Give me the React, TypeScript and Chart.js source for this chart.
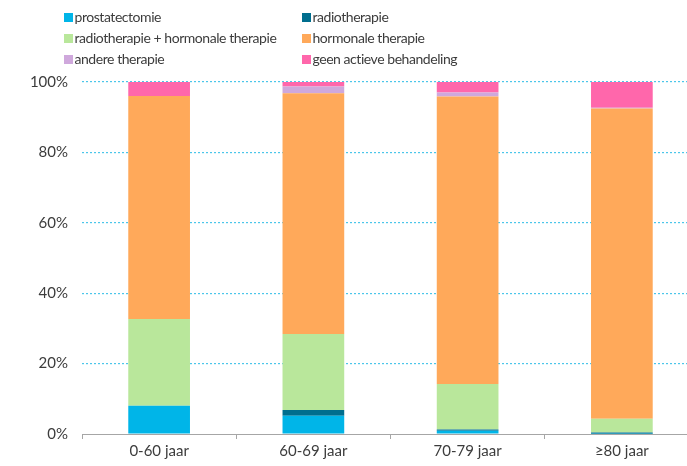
import React, { useEffect, useRef } from "react";
import { Chart, registerables } from "chart.js";

Chart.register(...registerables);

const categories = ["0-60 jaar", "60-69 jaar", "70-79 jaar", "≥80 jaar"];
const prostatectomie = [8.0, 5.2, 0.9, 0.1];
const radiotherapie = [0, 1.6, 0.4, 0.3];
const radioHormonaal = [24.7, 21.6, 12.9, 3.9];
const hormonaal = [63.3, 68.4, 81.7, 88.2];
const andere = [0, 1.9, 1.1, 0.2];
const geenBehandeling = [4.0, 1.3, 3.0, 7.3];
const yTicks = [0, 20, 40, 60, 80, 100];

const seriesNames = [
  "prostatectomie",
  "radiotherapie",
  "radiotherapie + hormonale therapie",
  "hormonale therapie",
  "andere therapie",
  "geen actieve behandeling",
];
const seriesColors = ["#00b5e8", "#006e8e", "#b9e79b", "#ffa95a", "#cfa8dc", "#ff67ab"];

const FONT = "Lato, 'Open Sans', sans-serif";
const TEXT = "#3c3c3c";

const legendPlugin = {
  id: "twoColLegend",
  afterDraw(chart: any) {
    const ctx = chart.ctx;
    const ds = chart.data.datasets;
    ctx.save();
    ctx.font = `14px ${FONT}`;
    try {
      (ctx as any).letterSpacing = "-0.45px";
    } catch (e) {}
    ctx.textBaseline = "middle";
    ctx.textAlign = "left";
    const colX = [64, 302];
    const rowY = [17.5, 38.5, 59.5];
    ds.forEach((d: any, i: number) => {
      const x = colX[i % 2];
      const y = rowY[Math.floor(i / 2)];
      ctx.fillStyle = d.backgroundColor;
      ctx.fillRect(x, y - 4.5, 9, 9);
      ctx.fillStyle = TEXT;
      ctx.fillText(d.label, x + 10.5, y);
    });
    ctx.restore();
  },
};

export default function App() {
  const ref = useRef<HTMLCanvasElement | null>(null);
  useEffect(() => {
    if (!ref.current) return;
    const values = [prostatectomie, radiotherapie, radioHormonaal, hormonaal, andere, geenBehandeling];
    const chart = new Chart(ref.current, {
      type: "bar",
      data: {
        labels: categories,
        datasets: values.map((v, i) => ({
          label: seriesNames[i],
          data: v,
          backgroundColor: seriesColors[i],
          borderWidth: 0,
          barPercentage: 0.4,
          categoryPercentage: 1,
        })),
      },
      plugins: [legendPlugin],
      options: {
        animation: false,
        responsive: false,
        maintainAspectRatio: false,
        layout: { padding: { top: 82, right: 1, left: 0, bottom: 0 } },
        plugins: {
          legend: { display: false },
          tooltip: { enabled: false },
          title: { display: false },
        },
        scales: {
          x: {
            stacked: true,
            grid: {
              display: true,
              drawOnChartArea: false,
              drawTicks: true,
              tickLength: 5,
              color: "#a6a6a6",
              offset: true,
            },
            border: { display: true, color: "#a6a6a6", width: 1 },
            ticks: {
              color: TEXT,
              font: { family: FONT, size: 15 },
              padding: 3,
            },
            afterFit(scale: any) {
              scale.height = 32;
            },
          },
          y: {
            stacked: true,
            min: 0,
            max: 100,
            afterBuildTicks(scale: any) {
              scale.ticks = yTicks.map((v) => ({ value: v }));
            },
            grid: {
              display: true,
              drawTicks: false,
              color: (c: any) => (c.tick && c.tick.value === 0 ? "rgba(0,0,0,0)" : "#4cc6ea"),
              lineWidth: 1.2,
            },
            border: { display: false, dash: [2, 2] },
            ticks: {
              color: TEXT,
              font: { family: FONT, size: 15 },
              padding: 14,
              callback: (v: any) => `${v}%`,
            },
            afterFit(scale: any) {
              scale.width = 82;
            },
          },
        },
      },
    });
    return () => chart.destroy();
  }, []);
  return (
    <div
      style={{
        position: "fixed",
        left: 0,
        top: 0,
        width: 687,
        height: 466,
        overflow: "hidden",
        background: "#fff",
      }}
    >
      <canvas ref={ref} width={700} height={466} style={{ display: "block" }} />
    </div>
  );
}
